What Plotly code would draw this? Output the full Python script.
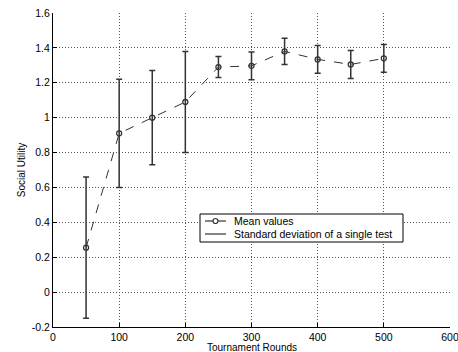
import plotly.graph_objects as go

rounds = [50, 100, 150, 200, 250, 300, 350, 400, 450, 500]
mean_values = [0.255, 0.91, 1.0, 1.09, 1.29, 1.297, 1.38, 1.334, 1.305, 1.34]
std_values = [0.405, 0.31, 0.27, 0.29, 0.06, 0.08, 0.075, 0.08, 0.08, 0.08]
x_ticks = [0, 100, 200, 300, 400, 500, 600]
y_ticks = [-0.2, 0, 0.2, 0.4, 0.6, 0.8, 1, 1.2, 1.4, 1.6]
y_tick_labels = ["-0.2", "0", "0.2", "0.4", "0.6", "0.8", "1", "1.2", "1.4", "1.6"]
legend_labels = ["Mean values", "Standard deviation of a single test"]

W, H = 458, 352
ML, MR, MT, MB = 53, 8, 13, 25
PW, PH = W - ML - MR, H - MT - MB
FONT = "Liberation Sans, Arial, sans-serif"
INK = "#333333"


def px(x):
    return (x - ML) / PW


def py(y):
    return (H - MB - y) / PH


fig = go.Figure()
fig.add_trace(go.Scatter(
    x=rounds, y=mean_values, mode="lines+markers", name=legend_labels[0],
    line=dict(color=INK, width=1, dash="dash"),
    marker=dict(symbol="circle-open", size=5, color=INK, line=dict(width=1.3)),
    error_y=dict(type="data", array=std_values, visible=True, color=INK,
                 thickness=1.5, width=3),
    showlegend=False,
))

axis_common = dict(
    showgrid=True, gridcolor="#555555", griddash="1px,2px", gridwidth=1,
    zeroline=False, showline=True, linecolor="black", linewidth=1,
    ticks="inside", ticklen=4, tickcolor="black",
    tickfont=dict(family=FONT, size=10.5, color="black"),
    mirror=False, automargin=False, ticklabeloverflow="allow",
)

# legend box (layout decoration)
shapes = [
    dict(type="rect", xref="paper", yref="paper", x0=px(200), x1=px(403),
         y0=py(242), y1=py(214), line=dict(color="black", width=1),
         fillcolor="white", layer="above"),
    dict(type="line", xref="paper", yref="paper", x0=px(205), x1=px(226),
         y0=py(221), y1=py(221), line=dict(color=INK, width=1.2), layer="above"),
    dict(type="circle", xref="paper", yref="paper", x0=px(213), x1=px(218),
         y0=py(223.5), y1=py(218.5), line=dict(color=INK, width=1.2),
         fillcolor="white", layer="above"),
    dict(type="line", xref="paper", yref="paper", x0=px(205), x1=px(226),
         y0=py(234), y1=py(234), line=dict(color=INK, width=1.2), layer="above"),
]
annotations = [
    dict(text=legend_labels[0], xref="paper", yref="paper", x=px(232), y=py(221),
         xanchor="left", yanchor="middle", showarrow=False,
         font=dict(family=FONT, size=10.5, color="black")),
    dict(text=legend_labels[1], xref="paper", yref="paper", x=px(232), y=py(234),
         xanchor="left", yanchor="middle", showarrow=False,
         font=dict(family=FONT, size=10.5, color="black")),
    dict(text="Tournament Rounds", xref="paper", yref="paper", x=0.5, y=py(347.5),
         xanchor="center", yanchor="middle", showarrow=False,
         font=dict(family=FONT, size=10, color="black")),
]

fig.update_layout(
    width=W, height=H,
    margin=dict(l=ML, r=MR, t=MT, b=MB),
    plot_bgcolor="white", paper_bgcolor="white",
    font=dict(family=FONT, size=10, color="black"),
    xaxis=dict(range=[0, 600], tickvals=x_ticks, **axis_common),
    yaxis=dict(range=[-0.2, 1.6], tickvals=y_ticks, ticktext=y_tick_labels,
               title=dict(text="Social Utility", standoff=4, font=dict(size=10)),
               **axis_common),
    shapes=shapes,
    annotations=annotations,
    showlegend=False,
)

fig.write_html("out.html", config={"displayModeBar": False},
               post_script="document.body.style.margin='0';document.body.style.overflow='hidden';")
